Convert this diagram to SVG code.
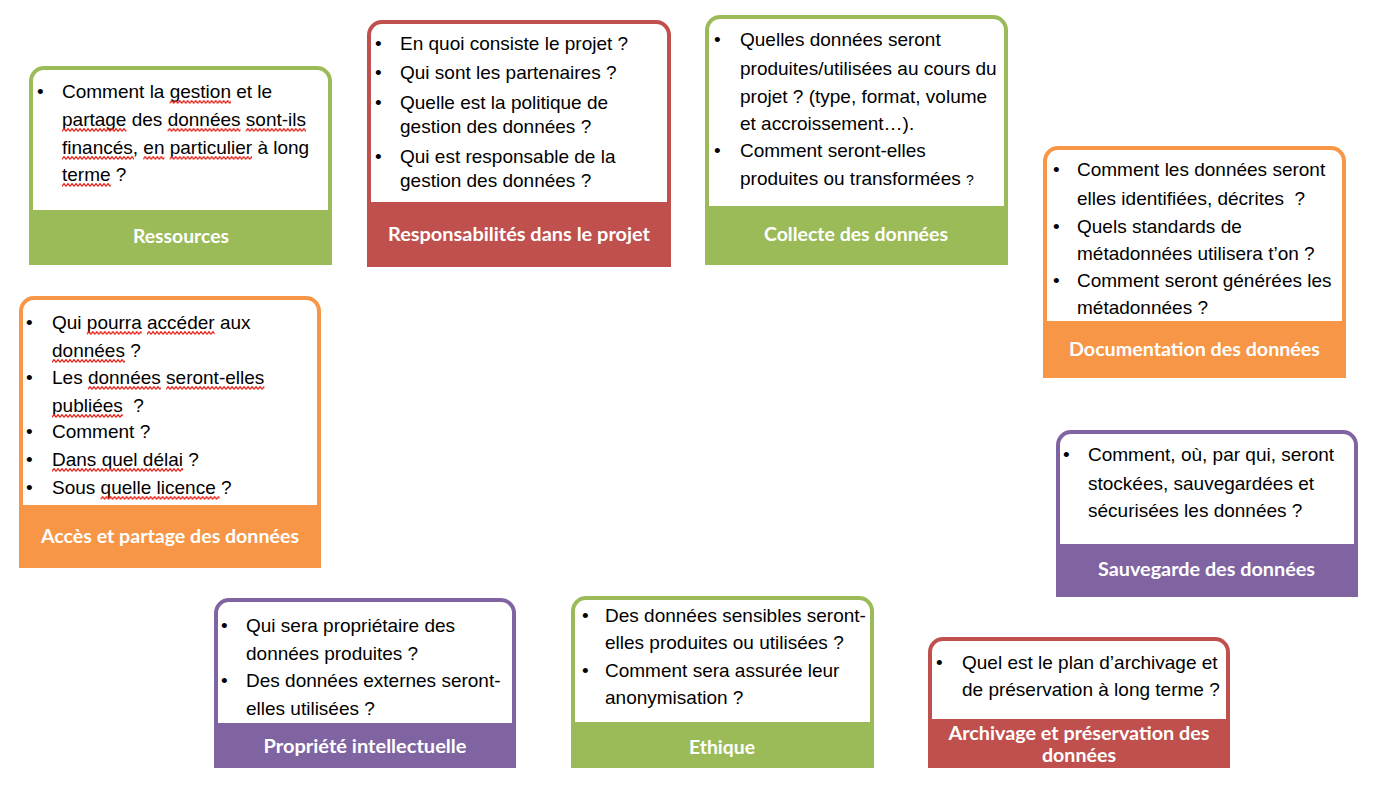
<svg xmlns="http://www.w3.org/2000/svg" width="1374" height="794" viewBox="0 0 1374 794">
<defs>
<style>
.t{font-family:"Liberation Sans",Arial,sans-serif;font-size:19px;fill:#000}
.h{font-family:Lato,"Open Sans",sans-serif;font-weight:700;font-size:19px;fill:#fff;text-anchor:middle}
.w{fill:#fff}
.g{fill:#9BBB59}.r{fill:#C0504D}.o{fill:#F79646}.p{fill:#8064A2}
.sq{fill:url(#squig)}
</style>
<pattern id="squig" width="4" height="4" patternUnits="userSpaceOnUse"><path d="M0,3.4 L2,0.6 L4,3.4" fill="none" stroke="#E8231A" stroke-width="1.2"/></pattern>
</defs>
<rect width="1374" height="794" fill="#fff"/>
<g id="connectors"/>

<g id="ressources">
<path class="g" d="M29,265 V81 A15,15 0 0 1 44,66 H317 A15,15 0 0 1 332,81 V265 Z"/>
<path class="w" d="M33,210 V81 A11,11 0 0 1 44,70 H317 A11,11 0 0 1 328,81 V210 Z"/>
<text class="t"><tspan x="37" y="98">•</tspan><tspan x="62" y="98">Comment la gestion et le</tspan><tspan x="62" y="126">partage des données sont-ils</tspan><tspan x="62" y="154">financés, en particulier à long</tspan><tspan x="62" y="181">terme ?</tspan></text>
<rect class="sq" transform="translate(169.7,100)" width="61.3" height="4"/>
<rect class="sq" transform="translate(62,128)" width="64.4" height="4"/>
<rect class="sq" transform="translate(167.6,128)" width="72.9" height="4"/>
<rect class="sq" transform="translate(245.8,128)" width="60.2" height="4"/>
<rect class="sq" transform="translate(62,156)" width="72" height="4"/>
<rect class="sq" transform="translate(143.3,156)" width="21.1" height="4"/>
<rect class="sq" transform="translate(169.7,156)" width="82.3" height="4"/>
<rect class="sq" transform="translate(62,183)" width="48.6" height="4"/>
<text class="h" x="181" y="243" textLength="96" lengthAdjust="spacingAndGlyphs">Ressources</text>
</g>

<g id="responsabilites">
<path class="r" d="M367,267 V35 A15,15 0 0 1 382,20 H656 A15,15 0 0 1 671,35 V267 Z"/>
<path class="w" d="M371,202 V35 A11,11 0 0 1 382,24 H656 A11,11 0 0 1 667,35 V202 Z"/>
<text class="t"><tspan x="375" y="50">•</tspan><tspan x="400" y="50">En quoi consiste le projet ?</tspan><tspan x="375" y="79">•</tspan><tspan x="400" y="79">Qui sont les partenaires ?</tspan><tspan x="375" y="109">•</tspan><tspan x="400" y="109">Quelle est la politique de</tspan><tspan x="400" y="133">gestion des données ?</tspan><tspan x="375" y="163">•</tspan><tspan x="400" y="163">Qui est responsable de la</tspan><tspan x="400" y="187">gestion des données ?</tspan></text>
<text class="h" x="519" y="241" textLength="262" lengthAdjust="spacingAndGlyphs">Responsabilités dans le projet</text>
</g>

<g id="collecte">
<path class="g" d="M705,265 V30 A15,15 0 0 1 720,15 H993 A15,15 0 0 1 1008,30 V265 Z"/>
<path class="w" d="M709,206 V30 A11,11 0 0 1 720,19 H993 A11,11 0 0 1 1004,30 V206 Z"/>
<text class="t"><tspan x="714" y="46">•</tspan><tspan x="740" y="46">Quelles données seront</tspan><tspan x="740" y="75">produites/utilisées au cours du</tspan><tspan x="740" y="103">projet ? (type, format, volume</tspan><tspan x="740" y="130">et accroissement…).</tspan><tspan x="714" y="157">•</tspan><tspan x="740" y="157">Comment seront-elles</tspan><tspan x="740" y="185">produites ou transformées <tspan font-size="14">?</tspan></tspan></text>
<text class="h" x="856" y="241" textLength="184" lengthAdjust="spacingAndGlyphs">Collecte des données</text>
</g>

<g id="documentation">
<path class="o" d="M1043,378 V161 A15,15 0 0 1 1058,146 H1331 A15,15 0 0 1 1346,161 V378 Z"/>
<path class="w" d="M1047,321 V161 A11,11 0 0 1 1058,150 H1331 A11,11 0 0 1 1342,161 V321 Z"/>
<text class="t"><tspan x="1053" y="176">•</tspan><tspan x="1077" y="176">Comment les données seront</tspan><tspan x="1077" y="205">elles identifiées, décrites&#160; ?</tspan><tspan x="1053" y="233">•</tspan><tspan x="1077" y="233">Quels standards de</tspan><tspan x="1077" y="260">métadonnées utilisera t’on ?</tspan><tspan x="1053" y="287">•</tspan><tspan x="1077" y="287">Comment seront générées les</tspan><tspan x="1077" y="314">métadonnées ?</tspan></text>
<text class="h" x="1194.5" y="356" textLength="251" lengthAdjust="spacingAndGlyphs">Documentation des données</text>
</g>

<g id="acces">
<path class="o" d="M19,568 V311 A15,15 0 0 1 34,296 H306 A15,15 0 0 1 321,311 V568 Z"/>
<path class="w" d="M23,505 V311 A11,11 0 0 1 34,300 H306 A11,11 0 0 1 317,311 V505 Z"/>
<text class="t"><tspan x="26" y="329">•</tspan><tspan x="52" y="329">Qui pourra accéder aux</tspan><tspan x="52" y="357">données ?</tspan><tspan x="26" y="384">•</tspan><tspan x="52" y="384">Les données seront-elles</tspan><tspan x="52" y="412">publiées&#160; ?</tspan><tspan x="26" y="438">•</tspan><tspan x="52" y="438">Comment ?</tspan><tspan x="26" y="466">•</tspan><tspan x="52" y="466">Dans quel délai ?</tspan><tspan x="26" y="494">•</tspan><tspan x="52" y="494">Sous quelle licence ?</tspan></text>
<rect class="sq" transform="translate(86.8,331)" width="54.9" height="4"/>
<rect class="sq" transform="translate(147,331)" width="67.6" height="4"/>
<rect class="sq" transform="translate(52,359)" width="72.9" height="4"/>
<rect class="sq" transform="translate(87.9,386)" width="72.9" height="4"/>
<rect class="sq" transform="translate(166.1,386)" width="98.2" height="4"/>
<rect class="sq" transform="translate(52,414)" width="70.8" height="4"/>
<rect class="sq" transform="translate(52,468)" width="131" height="4"/>
<rect class="sq" transform="translate(100.6,496)" width="119" height="4"/>
<text class="h" x="170" y="543" textLength="258" lengthAdjust="spacingAndGlyphs">Accès et partage des données</text>
</g>

<g id="sauvegarde">
<path class="p" d="M1056,597 V445 A15,15 0 0 1 1071,430 H1343 A15,15 0 0 1 1358,445 V597 Z"/>
<path class="w" d="M1060,544 V445 A11,11 0 0 1 1071,434 H1343 A11,11 0 0 1 1354,445 V544 Z"/>
<text class="t"><tspan x="1063" y="461">•</tspan><tspan x="1088" y="461">Comment, où, par qui, seront</tspan><tspan x="1088" y="490">stockées, sauvegardées et</tspan><tspan x="1088" y="517">sécurisées les données ?</tspan></text>
<text class="h" x="1206.5" y="576" textLength="217" lengthAdjust="spacingAndGlyphs">Sauvegarde des données</text>
</g>

<g id="propriete">
<path class="p" d="M214,768 V613 A15,15 0 0 1 229,598 H501 A15,15 0 0 1 516,613 V768 Z"/>
<path class="w" d="M218,723 V613 A11,11 0 0 1 229,602 H501 A11,11 0 0 1 512,613 V723 Z"/>
<text class="t"><tspan x="221" y="632">•</tspan><tspan x="246" y="632">Qui sera propriétaire des</tspan><tspan x="246" y="660">données produites ?</tspan><tspan x="221" y="687">•</tspan><tspan x="246" y="687">Des données externes seront-</tspan><tspan x="246" y="715">elles utilisées ?</tspan></text>
<text class="h" x="365" y="753" textLength="203" lengthAdjust="spacingAndGlyphs">Propriété intellectuelle</text>
</g>

<g id="ethique">
<path class="g" d="M571,768 V611 A15,15 0 0 1 586,596 H859 A15,15 0 0 1 874,611 V768 Z"/>
<path class="w" d="M575,722 V611 A11,11 0 0 1 586,600 H859 A11,11 0 0 1 870,611 V722 Z"/>
<text class="t"><tspan x="582" y="622">•</tspan><tspan x="605" y="622">Des données sensibles seront-</tspan><tspan x="605" y="649">elles produites ou utilisées ?</tspan><tspan x="582" y="677">•</tspan><tspan x="605" y="677">Comment sera assurée leur</tspan><tspan x="605" y="704">anonymisation ?</tspan></text>
<text class="h" x="722" y="754" textLength="66" lengthAdjust="spacingAndGlyphs">Ethique</text>
</g>

<g id="archivage">
<path class="r" d="M928,768 V652 A15,15 0 0 1 943,637 H1215 A15,15 0 0 1 1230,652 V768 Z"/>
<path class="w" d="M932,719 V652 A11,11 0 0 1 943,641 H1215 A11,11 0 0 1 1226,652 V719 Z"/>
<text class="t"><tspan x="936" y="669">•</tspan><tspan x="962" y="669">Quel est le plan d’archivage et</tspan><tspan x="962" y="696">de préservation à long terme ?</tspan></text>
<text class="h" x="1079" y="740" textLength="261" lengthAdjust="spacingAndGlyphs">Archivage et préservation des</text>
<text class="h" x="1079" y="762" textLength="74" lengthAdjust="spacingAndGlyphs">données</text>
</g>
</svg>
